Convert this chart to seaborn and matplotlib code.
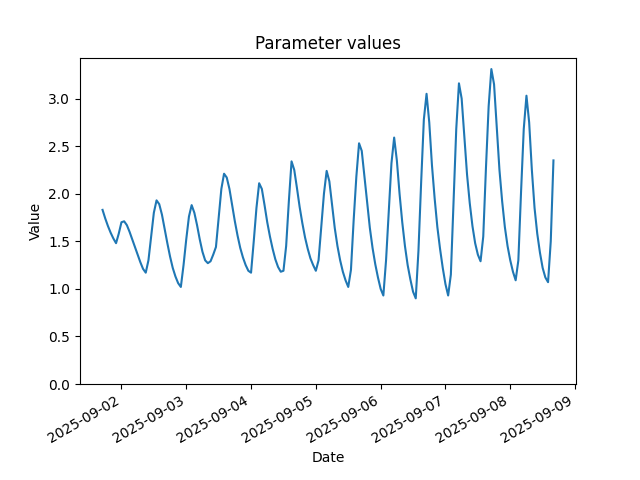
import numpy as np
import pandas as pd
import matplotlib
matplotlib.use('Agg')
import matplotlib.pyplot as plt
import seaborn as sns

# ── Data (hourly readings) ────────────────────────────────────────
START = '2025-09-01 17:00'

values = [
    # 09-01 17:00 .. 23:00
    1.83, 1.74, 1.66, 1.59, 1.53, 1.48, 1.58,
    # 09-02
    1.70, 1.71, 1.67, 1.60, 1.52, 1.44, 1.36, 1.28, 1.21, 1.17, 1.30, 1.55,
    1.80, 1.93, 1.89, 1.78, 1.63, 1.48, 1.34, 1.22, 1.13, 1.06, 1.02, 1.25,
    # 09-03
    1.52, 1.76, 1.88, 1.80, 1.67, 1.52, 1.39, 1.30, 1.27, 1.29, 1.36, 1.44,
    1.75, 2.05, 2.21, 2.17, 2.05, 1.88, 1.71, 1.56, 1.43, 1.33, 1.25, 1.19,
    # 09-04
    1.17, 1.50, 1.85, 2.11, 2.05, 1.88, 1.70, 1.55, 1.42, 1.31, 1.23, 1.18,
    1.19, 1.45, 1.92, 2.34, 2.25, 2.06, 1.86, 1.69, 1.54, 1.42, 1.32, 1.25,
    # 09-05
    1.19, 1.30, 1.65, 2.00, 2.24, 2.13, 1.88, 1.64, 1.45, 1.30, 1.18, 1.09,
    1.02, 1.20, 1.72, 2.18, 2.53, 2.45, 2.18, 1.90, 1.64, 1.43, 1.26, 1.12,
    # 09-06
    1.00, 0.93, 1.30, 1.82, 2.32, 2.59, 2.35, 2.00, 1.70, 1.45, 1.25, 1.10,
    0.97, 0.90, 1.40, 2.12, 2.78, 3.05, 2.75, 2.30, 1.95, 1.65, 1.42, 1.22,
    # 09-07
    1.05, 0.93, 1.15, 1.92, 2.68, 3.16, 3.00, 2.60, 2.20, 1.90, 1.66, 1.48,
    1.36, 1.29, 1.55, 2.27, 2.92, 3.31, 3.15, 2.70, 2.25, 1.92, 1.65, 1.45,
    # 09-08 00:00 .. 16:00
    1.30, 1.18, 1.09, 1.30, 2.02, 2.68, 3.03, 2.75, 2.25, 1.85, 1.58, 1.38,
    1.22, 1.12, 1.07, 1.50, 2.35,
]

dates = pd.date_range(START, periods=len(values), freq='h')
df = pd.DataFrame({'Date': dates, 'Value': values})

# ── Plot ──────────────────────────────────────────────────────────
fig, ax = plt.subplots(figsize=(6.4, 4.8), dpi=100)
sns.lineplot(data=df, x='Date', y='Value', ax=ax, color='#1f77b4', linewidth=1.5)
ax.set_title('Parameter values')
ax.set_xlabel('Date')
ax.set_ylabel('Value')
ax.set_ylim(bottom=0)
fig.autofmt_xdate()

plt.savefig('out.png', dpi=100)
